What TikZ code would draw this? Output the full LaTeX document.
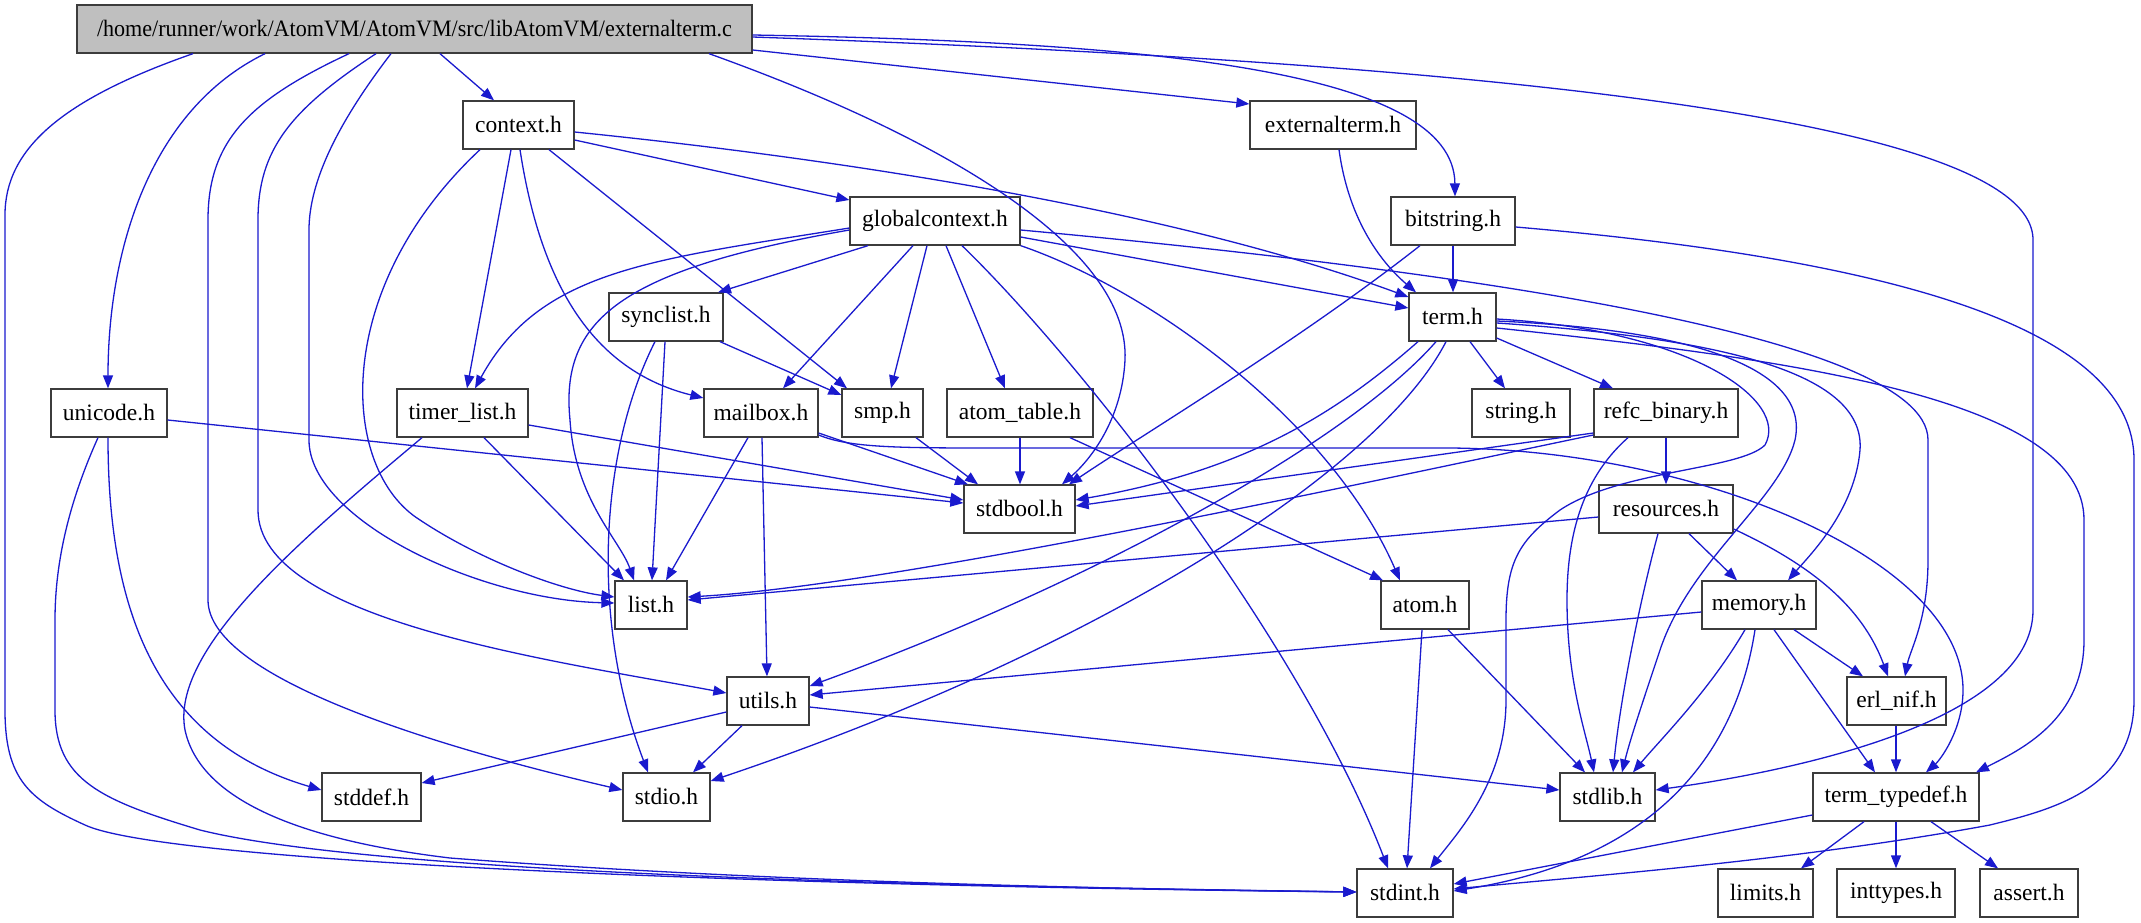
\documentclass[tikz,border=0pt]{standalone}
\usepackage{fontspec}
\setmainfont{Liberation Serif}
\usetikzlibrary{arrows.meta}
\definecolor{edgeblue}{RGB}{26,26,206}
\definecolor{boxgray}{RGB}{60,60,60}
\definecolor{mainfill}{RGB}{191,191,191}
\tikzset{
  box/.style={draw=boxgray, line width=1.3pt, minimum height=48pt, inner sep=0pt, font=\fontsize{23.5}{28}\selectfont, fill=white},
  e/.style={draw=edgeblue, line width=1.3pt, -{Triangle[length=13pt,width=10pt]}},
}
\begin{document}
\begin{tikzpicture}[x=1pt,y=-1pt]
\fill[white] (0,0) rectangle (2141,923);
\useasboundingbox (0,0) rectangle (2141,923);
% nodes
\node[box, fill=mainfill, minimum width=675pt] (main) at (414.5,29) {\scalebox{0.94}[1]{/home/runner/work/AtomVM/AtomVM/src/libAtomVM/externalterm.c}};
\node[box, minimum width=111pt] (context) at (518.5,125) {context.h};
\node[box, minimum width=166pt] (externalterm) at (1333,125) {externalterm.h};
\node[box, minimum width=170pt] (globalcontext) at (935,221) {globalcontext.h};
\node[box, minimum width=124pt] (bitstring) at (1453,221) {bitstring.h};
\node[box, minimum width=114pt] (synclist) at (666,317) {synclist.h};
\node[box, minimum width=87pt] (term) at (1452.5,317) {term.h};
\node[box, minimum width=116pt] (unicode) at (109,413) {unicode.h};
\node[box, minimum width=131pt] (timer_list) at (462.5,413) {timer\_list.h};
\node[box, minimum width=114pt] (mailbox) at (761,413) {mailbox.h};
\node[box, minimum width=81pt] (smp) at (882.5,413) {smp.h};
\node[box, minimum width=146pt] (atom_table) at (1020,413) {atom\_table.h};
\node[box, minimum width=98pt] (string) at (1521,413) {string.h};
\node[box, minimum width=144pt] (refc_binary) at (1666,413) {refc\_binary.h};
\node[box, minimum width=111pt] (stdbool) at (1019.5,509) {stdbool.h};
\node[box, minimum width=134pt] (resources) at (1666,509) {resources.h};
\node[box, minimum width=72pt] (list) at (651,605) {list.h};
\node[box, minimum width=88pt] (atom) at (1425,605) {atom.h};
\node[box, minimum width=114pt] (memory) at (1759,605) {memory.h};
\node[box, minimum width=82pt] (utils) at (768,701) {utils.h};
\node[box, minimum width=99pt] (erl_nif) at (1896.5,701) {erl\_nif.h};
\node[box, minimum width=99pt] (stddef) at (371.5,797) {stddef.h};
\node[box, minimum width=87pt] (stdio) at (666.5,797) {stdio.h};
\node[box, minimum width=95pt] (stdlib) at (1607.5,797) {stdlib.h};
\node[box, minimum width=166pt] (term_typedef) at (1896,797) {term\_typedef.h};
\node[box, minimum width=96pt] (stdint) at (1405,893) {stdint.h};
\node[box, minimum width=95pt] (limits) at (1765.5,893) {limits.h};
\node[box, minimum width=118pt] (inttypes) at (1896,893) {inttypes.h};
\node[box, minimum width=98pt] (assert) at (2029,893) {assert.h};
% main
\draw[e] (main.south -| 193,0) .. controls (60,100) and (5,150) .. (5,215) -- (5,710) .. controls (5,780) and (30,800) .. (85,825) .. controls (160,860) and (700,885) .. (stdint.west |- 0,892);
\draw[e] (main.south -| 265,0) .. controls (150,110) and (108,250) .. (unicode.north -| 108,0);
\draw[e] (main.south -| 349,0) .. controls (250,100) and (208,140) .. (208,220) -- (208,600) .. controls (208,680) and (450,750) .. (stdio.west |- 0,790);
\draw[e] (main.south -| 376,0) .. controls (290,110) and (258,150) .. (258,220) -- (258,510) .. controls (258,620) and (550,660) .. (utils.west |- 0,693);
\draw[e] (main.south -| 391,0) .. controls (340,120) and (309,180) .. (309,230) -- (309,440) .. controls (309,520) and (480,600) .. (list.west |- 0,603);
\draw[e] (main.south -| 440,0) -- (context.north -| 494,0);
\draw[e] (main.south -| 709,0) .. controls (950,140) and (1130,250) .. (1125,360) .. controls (1122,420) and (1090,460) .. (stdbool.north -| 1062,0);
\draw[e] (main.east |- 0,50) -- (externalterm.west |- 0,104);
\draw[e] (main.east |- 0,35) .. controls (1150,42) and (1454,70) .. (bitstring.north -| 1455,0);
\draw[e] (main.east |- 0,37) .. controls (1400,60) and (2033,110) .. (2033,240) -- (2033,610) .. controls (2033,720) and (1800,770) .. (stdlib.east |- 0,790);
% context
\draw[e] (context.east |- 0,140) -- (globalcontext.west |- 0,200);
\draw[e] (context.east |- 0,132) .. controls (900,165) and (1200,220) .. (term.west |- 0,297);
\draw[e] (context.south -| 480,0) .. controls (330,290) and (340,470) .. (420,520) .. controls (480,560) and (560,590) .. (list.west |- 0,597);
\draw[e] (context.south -| 511,0) -- (timer_list.north -| 467,0);
\draw[e] (context.south -| 520,0) .. controls (540,280) and (590,370) .. (mailbox.west |- 0,398);
\draw[e] (context.south -| 549,0) -- (smp.north -| 847,0);
% globalcontext
\draw[e] (globalcontext.west |- 0,228) .. controls (650,260) and (540,270) .. (timer_list.north -| 475,0);
\draw[e] (globalcontext.west |- 0,230) .. controls (620,270) and (560,320) .. (570,420) .. controls (575,500) and (620,540) .. (list.north -| 634,0);
\draw[e] (globalcontext.south -| 868,0) -- (synclist.north -| 718,0);
\draw[e] (globalcontext.south -| 913,0) -- (mailbox.north -| 783,0);
\draw[e] (globalcontext.south -| 927,0) -- (smp.north -| 891,0);
\draw[e] (globalcontext.south -| 946,0) -- (atom_table.north -| 1005,0);
\draw[e] (globalcontext.south -| 962,0) .. controls (1080,360) and (1300,640) .. (stdint.north -| 1388,0);
\draw[e] (globalcontext.south east) .. controls (1150,290) and (1330,420) .. (atom.north -| 1400,0);
\draw[e] (globalcontext.east |- 0,237) -- (term.west |- 0,308);
\draw[e] (globalcontext.east |- 0,230) .. controls (1400,265) and (1928,330) .. (1928,440) -- (1928,560) .. controls (1928,620) and (1910,650) .. (erl_nif.north -| 1905,0);
% bitstring
\draw[e] (bitstring.south -| 1453,0) -- (term.north -| 1453,0);
\draw[e] (bitstring.south -| 1420,0) .. controls (1300,340) and (1150,430) .. (stdbool.north -| 1069,0);
\draw[e] (bitstring.east |- 0,227) .. controls (1900,260) and (2134,330) .. (2134,460) -- (2134,700) .. controls (2134,790) and (2050,810) .. (1990,825) .. controls (1800,860) and (1600,875) .. (stdint.east |- 0,889);
% externalterm
\draw[e] (externalterm.south -| 1339,0) .. controls (1350,230) and (1390,270) .. (term.north -| 1416,0);
% synclist
\draw[e] (synclist.south -| 720,0) -- (smp.west |- 0,395);
\draw[e] (synclist.south -| 665,0) -- (list.north -| 652,0);
\draw[e] (synclist.south -| 655,0) .. controls (600,450) and (590,620) .. (stdio.north -| 648,0);
% timer_list
\draw[e] (timer_list.south -| 484,0) -- (list.north -| 624,0);
\draw[e] (timer_list.east |- 0,425) -- (stdbool.west |- 0,500);
\draw[e] (timer_list.south -| 422,0) .. controls (300,540) and (170,650) .. (185,730) .. controls (200,800) and (300,840) .. (450,858) .. controls (800,885) and (1200,890) .. (stdint.west |- 0,892);
% unicode
\draw[e] (unicode.south -| 108,0) .. controls (108,600) and (150,740) .. (stddef.west |- 0,790);
\draw[e] (unicode.south -| 98,0) .. controls (70,500) and (55,560) .. (55,620) -- (55,710) .. controls (55,780) and (100,800) .. (200,830) .. controls (400,880) and (1100,888) .. (stdint.west |- 0,892);
\draw[e] (unicode.east |- 0,420) -- (stdbool.west |- 0,503);
% mailbox
\draw[e] (mailbox.south -| 748,0) -- (list.north -| 666,0);
\draw[e] (mailbox.south -| 762,0) -- (utils.north -| 767,0);
\draw[e] (mailbox.east |- 0,433) -- (stdbool.north -| 968,0);
\draw[e] (mailbox.east |- 0,435) .. controls (850,448) and (900,448) .. (1000,448) -- (1450,448) .. controls (1700,450) and (1963,560) .. (1963,690) .. controls (1963,730) and (1940,760) .. (term_typedef.north -| 1926,0);
% smp
\draw[e] (smp.south -| 916,0) -- (stdbool.north -| 978,0);
% atom_table
\draw[e] (atom_table.south -| 1020,0) -- (stdbool.north -| 1020,0);
\draw[e] (atom_table.south -| 1070,0) -- (atom.north -| 1383,0);
% term
\draw[e] (term.south -| 1418,0) .. controls (1340,410) and (1250,470) .. (stdbool.east |- 0,500);
\draw[e] (term.south -| 1436,0) .. controls (1350,440) and (1100,580) .. (utils.east |- 0,686);
\draw[e] (term.south -| 1446,0) .. controls (1380,470) and (1100,650) .. (stdio.east |- 0,781);
\draw[e] (term.south -| 1470,0) -- (string.north -| 1505,0);
\draw[e] (term.east |- 0,338) -- (refc_binary.north -| 1613,0);
\draw[e] (term.east |- 0,323) .. controls (1750,340) and (1865,380) .. (1860,450) .. controls (1855,510) and (1810,555) .. (memory.north -| 1788,0);
\draw[e] (term.east |- 0,321) .. controls (1700,330) and (1810,370) .. (1795,440) .. controls (1780,500) and (1690,560) .. (1660,650) .. controls (1640,710) and (1630,740) .. (stdlib.north -| 1622,0);
\draw[e] (term.east |- 0,319) .. controls (1690,330) and (1790,400) .. (1765,445) .. controls (1740,470) and (1620,470) .. (1560,510) .. controls (1520,540) and (1506,560) .. (1506,620) -- (1506,700) .. controls (1506,780) and (1460,830) .. (stdint.north -| 1430,0);
\draw[e] (term.east |- 0,328) .. controls (1800,360) and (2084,400) .. (2084,520) -- (2084,640) .. controls (2084,720) and (2020,750) .. (term_typedef.north -| 1976,0);
% refc_binary
\draw[e] (refc_binary.west |- 0,433) -- (stdbool.east |- 0,506);
\draw[e] (refc_binary.west |- 0,435) .. controls (1400,475) and (900,585) .. (list.east |- 0,597);
\draw[e] (refc_binary.south) -- (resources.north);
\draw[e] (refc_binary.south -| 1628,0) .. controls (1580,480) and (1567,540) .. (1567,600) .. controls (1567,680) and (1585,730) .. (stdlib.north -| 1594,0);
% resources
\draw[e] (resources.west |- 0,517) -- (list.east |- 0,600);
\draw[e] (resources.south -| 1658,0) .. controls (1640,600) and (1620,700) .. (stdlib.north -| 1613,0);
\draw[e] (resources.south -| 1689,0) -- (memory.north -| 1737,0);
\draw[e] (resources.east |- 0,529) .. controls (1800,560) and (1860,600) .. (erl_nif.north -| 1888,0);
% memory
\draw[e] (memory.west |- 0,612) -- (utils.east |- 0,695);
\draw[e] (memory.south -| 1745,0) .. controls (1710,690) and (1660,740) .. (stdlib.north -| 1633,0);
\draw[e] (memory.south -| 1755,0) .. controls (1735,760) and (1650,860) .. (stdint.east |- 0,891);
\draw[e] (memory.south -| 1774,0) -- (term_typedef.north -| 1875,0);
\draw[e] (memory.south -| 1794,0) -- (erl_nif.north -| 1863,0);
% atom
\draw[e] (atom.south -| 1422,0) -- (stdint.north -| 1407,0);
\draw[e] (atom.south -| 1448,0) -- (stdlib.north -| 1585,0);
% utils
\draw[e] (utils.west |- 0,712) -- (stddef.east |- 0,783);
\draw[e] (utils.south -| 742,0) -- (stdio.north -| 693,0);
\draw[e] (utils.east |- 0,707) -- (stdlib.west |- 0,790);
% erl_nif
\draw[e] (erl_nif.south -| 1896,0) -- (term_typedef.north -| 1896,0);
% term_typedef
\draw[e] (term_typedef.south -| 1864,0) -- (limits.north -| 1801,0);
\draw[e] (term_typedef.south -| 1896,0) -- (inttypes.north -| 1896,0);
\draw[e] (term_typedef.south -| 1931,0) -- (assert.north -| 1998,0);
\draw[e] (term_typedef.west |- 0,815) -- (stdint.east |- 0,884);
\end{tikzpicture}
\end{document}
